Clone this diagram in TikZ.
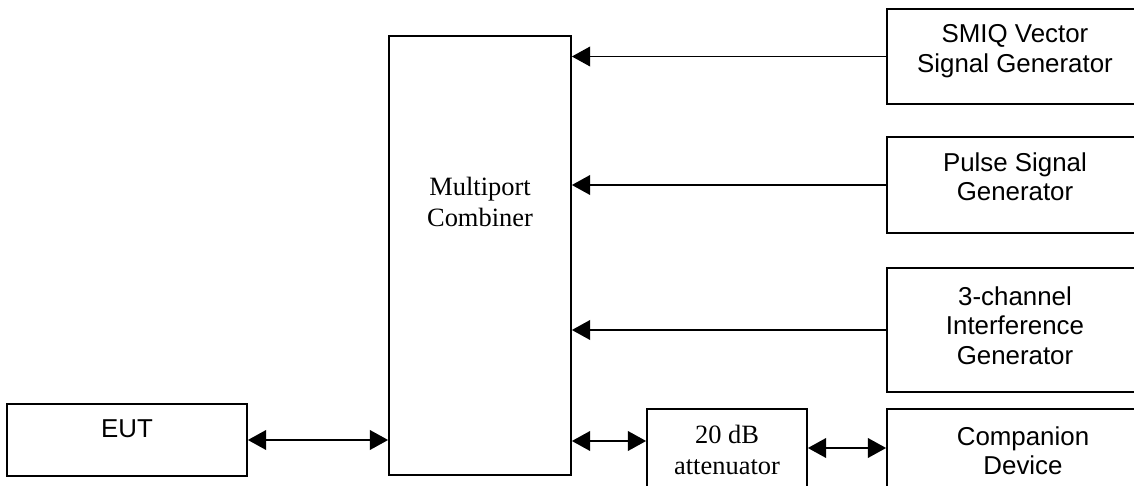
\documentclass[tikz,border=0pt]{standalone}
\usepackage{fontspec}
\setmainfont{Liberation Serif}
\newfontfamily\arialfont{Liberation Sans}
\usetikzlibrary{arrows.meta}

\begin{document}
\begin{tikzpicture}[x=0.025cm, y=-0.025cm,
    box/.style={draw, line width=1.2pt, rectangle, inner sep=0pt},
    sanstxt/.style={font=\arialfont\fontsize{18.4}{21}\selectfont, align=center, inner sep=0pt, anchor=north},
    sertxt/.style={font=\fontsize{18.8}{22}\selectfont, align=center, inner sep=0pt, anchor=north},
    link/.style={line width=1.2pt},
    >={Triangle[length=13pt, width=14pt]}]
    \useasboundingbox (0,0) rectangle (1134,486);
    \clip (0,0) rectangle (1134,486);

    % Blocks
    \node[box, minimum width=6cm, minimum height=1.8cm,
        label={[sanstxt, yshift=-11.5pt]north:EUT}] (eut) at (127,440) {};
    \node[box, minimum width=4.55cm, minimum height=10.975cm,
        label={[sertxt, yshift=-101pt]north:Multiport\\Combiner}] (comb) at (480,255.5) {};
    \node[box, minimum width=4cm, minimum height=2.1cm,
        label={[sertxt, yshift=-12pt]north:20 dB\\attenuator}] (att) at (727,451) {};

    % Sources on the right
    \node[box, minimum width=6.4cm, minimum height=2.375cm,
        label={[sanstxt, yshift=-11.5pt]north:SMIQ Vector\\Signal Generator}] (smiq) at (1015,56.5) {};
    \node[box, minimum width=6.4cm, minimum height=2.4cm,
        label={[sanstxt, yshift=-11.5pt]north:Pulse Signal\\Generator}] (pulse) at (1015,185) {};
    \node[box, minimum width=6.4cm, minimum height=3.1cm,
        label={[sanstxt, yshift=-13.5pt]north:3-channel\\Interference\\Generator}] (intf) at (1015,330) {};
    \node[box, minimum width=6.8cm, minimum height=2.1cm,
        label={[sanstxt, yshift=-13pt]north:Companion\\Device}] (comp) at (1023,451) {};

    % Signal paths into the combiner
    \draw[link, ->] (smiq.west) -- (smiq.west -| comb.east);
    \draw[link, ->] (pulse.west) -- (pulse.west -| comb.east);
    \draw[link, ->] (intf.west) -- (intf.west -| comb.east);

    % Two-way links
    \draw[link, <->] (eut.east) -- (eut.east -| comb.west);
    \draw[link, <->] ([yshift=0.25cm]att.west -| comb.east) -- ([yshift=0.25cm]att.west);
    \draw[link, <->] ([yshift=0.075cm]att.east) -- ([yshift=0.075cm]att.east -| comp.west);
\end{tikzpicture}
\end{document}
